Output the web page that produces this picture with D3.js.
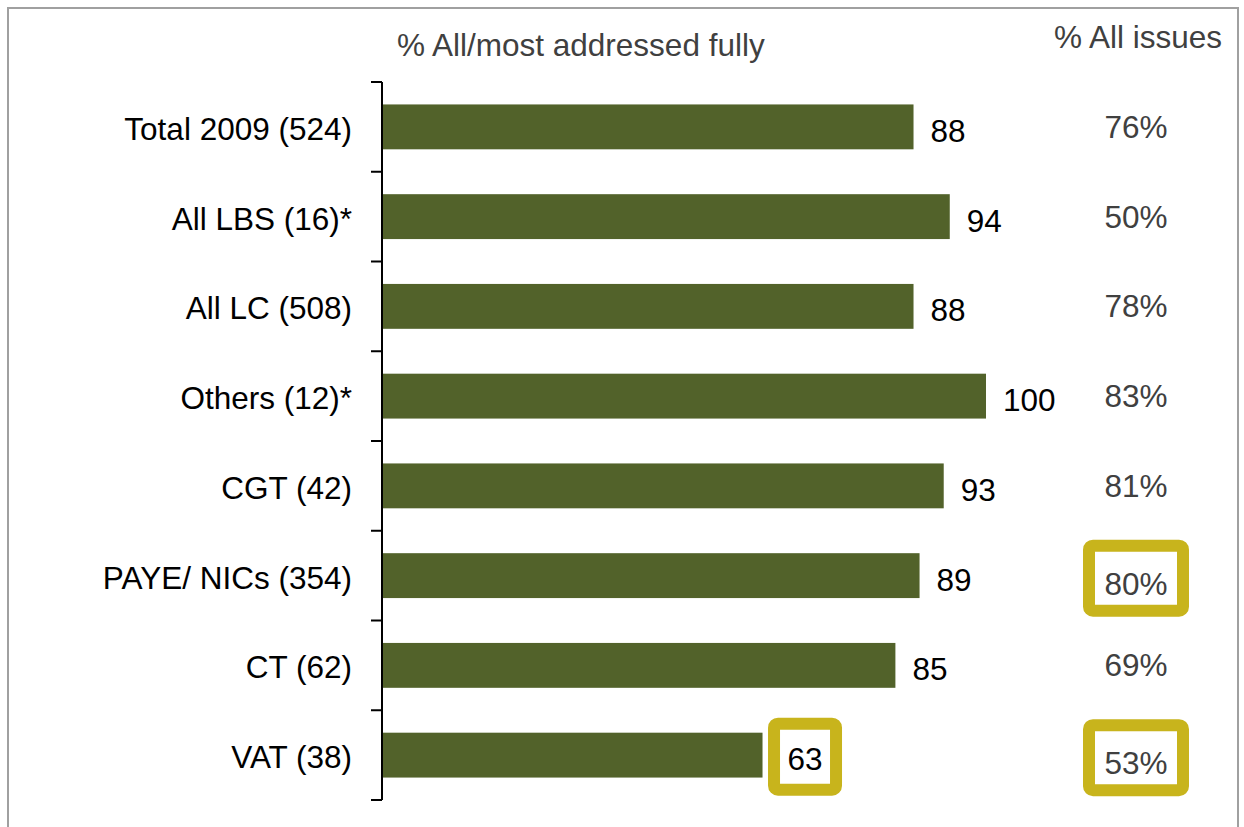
<!DOCTYPE html>
<meta charset="utf-8">
<html>
<head>
  <script src="https://d3js.org/d3.v7.min.js"></script>
  <style>
    body { margin: 0; background: #fff; }
    text { font-family: "Liberation Sans", Arial, sans-serif; }
  </style>
</head>
<body>
<script>
  // data
  var categories = ["Total 2009 (524)", "All LBS (16)*", "All LC (508)", "Others (12)*",
                    "CGT (42)", "PAYE/ NICs (354)", "CT (62)", "VAT (38)"];
  var addressed = [88, 94, 88, 100, 93, 89, 85, 63];
  var allIssues = [76, 50, 78, 83, 81, 80, 69, 53];
  var boxedBar = ["VAT (38)"];
  var boxedIssue = ["PAYE/ NICs (354)", "VAT (38)"];

  var W = 1244, H = 827;
  var fs = 31.5;
  var svg = d3.select("body").append("svg")
      .attr("width", W)
      .attr("height", H);

  // outer frame
  svg.append("rect")
      .attr("x", 8).attr("y", 8)
      .attr("width", 1230).attr("height", 840)
      .attr("fill", "none")
      .attr("stroke", "#a0a0a0")
      .attr("stroke-width", 2);

  var x = d3.scaleLinear().domain([0, 100]).range([382, 986]);
  var y = d3.scaleBand().domain(categories).range([82, 800]).paddingInner(0.5).paddingOuter(0.25);
  var band = d3.scaleBand().domain(categories).range([82, 800]);

  // axis: line plus ticks at band boundaries
  var axis = svg.append("g");
  axis.append("line")
      .attr("x1", 382).attr("x2", 382)
      .attr("y1", 82).attr("y2", 800)
      .attr("stroke", "#000").attr("stroke-width", 2);
  var bounds = categories.map(function(c) { return band(c); }).concat([band.range()[1]]);
  axis.selectAll(".tk").data(bounds).enter().append("line")
      .attr("x1", 371).attr("x2", 382)
      .attr("y1", function(d) { return d; })
      .attr("y2", function(d) { return d; })
      .attr("stroke", "#000").attr("stroke-width", 2);

  // category labels
  svg.selectAll(".cat").data(categories).enter().append("text")
      .attr("x", 352)
      .attr("y", function(d) { return band(d) + band.bandwidth() / 2 + 2; })
      .attr("dy", "0.35em")
      .attr("text-anchor", "end")
      .attr("font-size", fs)
      .attr("fill", "#000")
      .text(function(d) { return d; });

  // bars
  svg.selectAll(".bar").data(addressed).enter().append("rect")
      .attr("x", x(0) + 1)
      .attr("y", function(d, i) { return y(categories[i]); })
      .attr("width", function(d) { return x(d) - x(0) - 1; })
      .attr("height", y.bandwidth())
      .attr("fill", "#52622a");

  var hl = "#c8b41c";

  // value labels
  addressed.forEach(function(v, i) {
    var cy = band(categories[i]) + band.bandwidth() / 2;
    var boxed = boxedBar.indexOf(categories[i]) >= 0;
    var tx = x(v) + (boxed ? 25 : 17);
    if (boxed) {
      svg.append("rect")
          .attr("x", tx - 13.5).attr("y", cy - 31.5)
          .attr("width", 62).attr("height", 66)
          .attr("rx", 4)
          .attr("fill", "#fff")
          .attr("stroke", hl).attr("stroke-width", 12);
    }
    svg.append("text")
        .attr("x", tx)
        .attr("y", cy + 4)
        .attr("dy", "0.35em")
        .attr("font-size", fs)
        .attr("fill", "#000")
        .text(v);
  });

  // right column
  allIssues.forEach(function(v, i) {
    var cy = band(categories[i]) + band.bandwidth() / 2;
    var boxed = boxedIssue.indexOf(categories[i]) >= 0;
    if (boxed) {
      svg.append("rect")
          .attr("x", 1089).attr("y", cy - 30)
          .attr("width", 94).attr("height", 65)
          .attr("rx", 4)
          .attr("fill", "#fff")
          .attr("stroke", hl).attr("stroke-width", 12);
    }
    svg.append("text")
        .attr("x", 1136)
        .attr("y", cy + (boxed ? 8 : 0))
        .attr("dy", "0.35em")
        .attr("text-anchor", "middle")
        .attr("font-size", fs)
        .attr("fill", "#404040")
        .text(v + "%");
  });

  // headers
  svg.append("text")
      .attr("x", 397).attr("y", 45).attr("dy", "0.35em")
      .attr("font-size", fs).attr("fill", "#404040")
      .text("% All/most addressed fully");
  svg.append("text")
      .attr("x", 1222).attr("y", 37).attr("dy", "0.35em")
      .attr("text-anchor", "end")
      .attr("font-size", fs).attr("fill", "#404040")
      .text("% All issues");
</script>
</body>
</html>
